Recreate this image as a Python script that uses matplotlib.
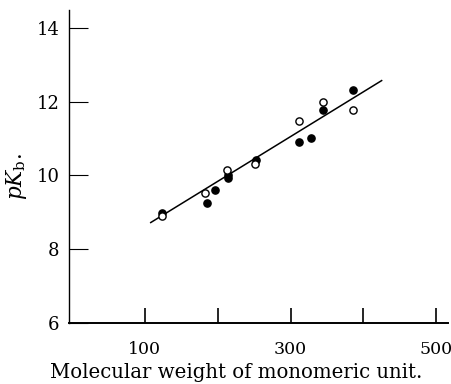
import matplotlib
matplotlib.use("Agg")
import matplotlib.pyplot as plt

plt.rcParams["font.family"] = "DejaVu Serif"
plt.rcParams["mathtext.fontset"] = "dejavuserif"

# ── Data ─────────────────────────────────────────────────────────────────────
mw_filled = [124, 185, 196, 214, 214, 252, 312, 328, 345, 386]
pk_filled = [8.99, 9.25, 9.61, 9.92, 10.0, 10.41, 10.90, 11.01, 11.79, 12.33]

mw_open = [124, 183, 213, 251, 311, 345, 386]
pk_open = [8.91, 9.52, 10.14, 10.31, 11.47, 12.00, 11.79]

fit_x = [108, 425]
fit_y = [8.72, 12.58]

x_ticks = [100, 200, 300, 400, 500]
x_tick_labels = ["100", "", "300", "", "500"]
y_ticks = [6, 8, 10, 12, 14]

W, H = 452, 384
fig = plt.figure(figsize=(W / 100, H / 100), dpi=100)
ax = fig.add_axes([0.153, 0.160, 0.838, 0.814])

ax.plot(fit_x, fit_y, color="black", linewidth=1.1, zorder=2)
ax.plot(mw_filled, pk_filled, "o", color="black", markersize=5.2, zorder=3)
ax.plot(mw_open, pk_open, "o", markerfacecolor="white", markeredgecolor="black",
        markeredgewidth=1.0, markersize=5.2, zorder=4)

ax.set_xlim(-4, 516)
ax.set_ylim(6, 14.5)

ax.set_xticks(x_ticks)
ax.set_xticklabels(x_tick_labels)
ax.set_yticks(y_ticks)

ax.tick_params(axis="x", direction="in", length=11, width=1.2, pad=13.5, labelsize=12.5)
ax.tick_params(axis="y", direction="in", length=14, width=0.8, pad=7, labelsize=13)

for side in ("top", "right"):
    ax.spines[side].set_visible(False)
ax.spines["left"].set_linewidth(1.0)
ax.spines["bottom"].set_linewidth(1.4)

# axis titles placed in figure pixels to match the reference
fig.text(236 / W, 1 - 378 / H, "Molecular weight of monomeric unit.",
         fontsize=14.2, ha="center", va="baseline")
fig.text(16.5 / W, 1 - 177 / H, r"$pK_{\mathrm{b}}.$", fontsize=15.5,
         rotation=90, ha="center", va="center")

fig.savefig("out.png", dpi=100)
